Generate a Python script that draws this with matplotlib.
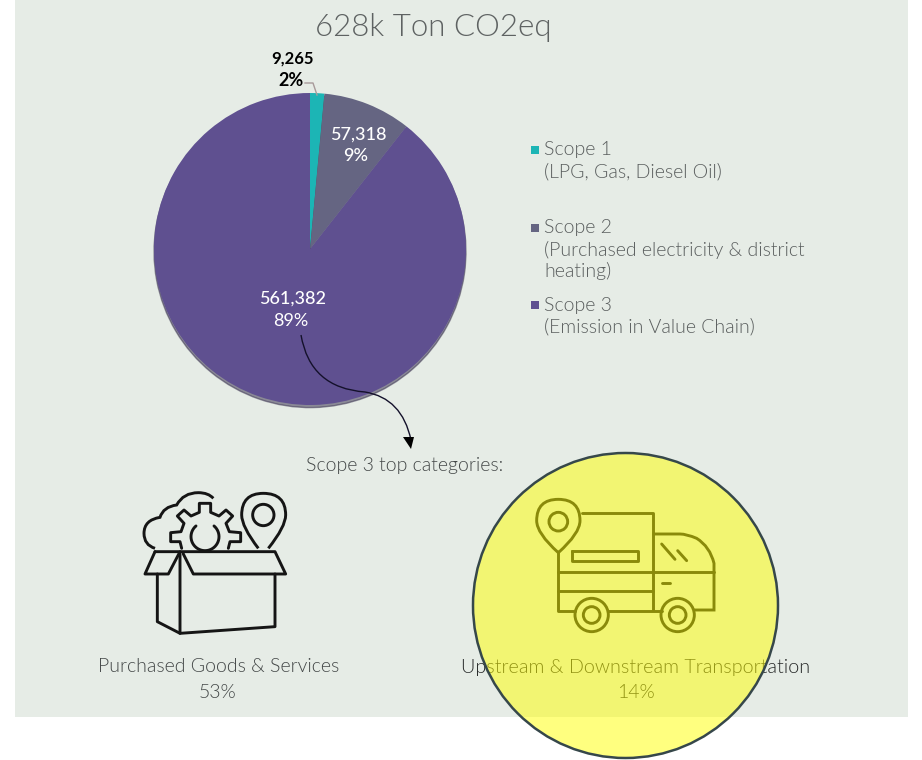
import numpy as np
import matplotlib
matplotlib.use("Agg")
import matplotlib.pyplot as plt
from matplotlib.patches import Circle, PathPatch, Polygon, Rectangle
from matplotlib.path import Path

W, H = 922, 760

scope_values = [9265, 57318, 561382]
scope_percents = ["2%", "9%", "89%"]
scope_colors = ["#1CB5B5", "#656582", "#5F5090"]
legend_lines = [
    ["Scope 1", "(LPG, Gas, Diesel Oil)"],
    ["Scope 2", "(Purchased electricity & district", "heating)"],
    ["Scope 3", "(Emission in Value Chain)"],
]
title_text = "628k Ton CO2eq"
top_heading = "Scope 3 top categories:"
top_categories = ["Purchased Goods & Services", "Upstream & Downstream Transportation"]
top_shares = ["53%", "14%"]

plt.rcParams["font.family"] = ["Lato", "DejaVu Sans"]
GREY = "#5A5E5E"
INK = "#151515"
LIGHT = 300

fig = plt.figure(figsize=(W / 100, H / 100), dpi=100, facecolor="white")

# background panel, everything on this axes uses pixel coordinates
bg = fig.add_axes([0, 0, 1, 1], zorder=0)
bg.set_xlim(0, W)
bg.set_ylim(H, 0)
bg.axis("off")
bg.add_patch(Rectangle((15, 0), 893, 717, fc="#E6ECE6", ec="none"))

# pie
cx, cy, r = 310, 249, 156
side = 2 * r * 1.1
pie_ax = fig.add_axes([(cx - side / 2) / W, 1 - (cy + side / 2) / H, side / W, side / H], zorder=1)
pie_ax.pie(scope_values, colors=scope_colors, startangle=90, counterclock=False, radius=1,
           shadow={"ox": 0.0, "oy": -0.012, "shade": 0.5, "alpha": 0.5})
pie_ax.set_xlim(-1.1, 1.1)
pie_ax.set_ylim(-1.1, 1.1)

ax = fig.add_axes([0, 0, 1, 1], zorder=2)
ax.set_xlim(0, W)
ax.set_ylim(H, 0)
ax.axis("off")
ax.patch.set_alpha(0)


def label(x, y, s, size=12, color=GREY, weight="normal", ha="center"):
    ax.text(x, y, s, fontsize=size, color=color, fontweight=weight, ha=ha, va="center")


label(433, 27, title_text, size=22.5, color="#5E6262", weight=LIGHT)

# slice labels
label(292, 59, f"{scope_values[0]:,}", size=12, color="black", weight="bold")
label(291, 80, scope_percents[0], size=13, color="black", weight="bold")
label(358, 135, f"{scope_values[1]:,}", size=13, color="white", weight="medium")
label(356, 156, scope_percents[1], size=13, color="white", weight="medium")
label(293, 299, f"{scope_values[2]:,}", size=13, color="white", weight="medium")
label(291, 321, scope_percents[2], size=13, color="white")
ax.plot([305, 313, 317], [83, 83, 95], color="#A89A9A", lw=1)

# legend
for lines, color, y0 in zip(legend_lines, scope_colors, [150, 228, 305]):
    ax.add_patch(Rectangle((531, y0 - 4), 8, 8, fc=color, ec="none"))
    for i, line in enumerate(lines):
        label(544, y0 + i * 21.5, line, size=14, weight=LIGHT, ha="left")

# curved arrow from the Scope 3 slice down to the heading
arrow = Path([(301, 335), (310, 388), (365, 392), (402, 398), (411, 440)],
             [Path.MOVETO, Path.CURVE3, Path.CURVE3, Path.CURVE3, Path.CURVE3])
ax.add_patch(PathPatch(arrow, fc="none", ec="#14112B", lw=1))
ax.add_patch(Polygon([(403, 437), (414, 437), (411, 449)], fc="black", ec="none"))

label(405, 466, top_heading, size=14, color="#444848", weight=LIGHT)
label(219, 667, top_categories[0], size=14, color="#444848", weight=LIGHT)
label(218, 692, top_shares[0], size=14, color="#444848", weight=LIGHT)
label(636, 667, top_categories[1], size=14.2, color="#262828", weight=LIGHT)
label(636, 692, top_shares[1], size=14, color="#262828", weight=LIGHT)


def icon_line(pts, ox, oy, close=False, lw=2.1):
    xy = [(x / 3 + ox, y / 3 + oy) for x, y in pts]
    if close:
        xy.append(xy[0])
    ax.plot(*zip(*xy), color=INK, lw=lw, solid_joinstyle="round", solid_capstyle="round")


def icon_curve(start, segs, ox, oy, lw=2.1):
    # quadratic segments, each given as (control, end)
    verts = [start]
    codes = [Path.MOVETO]
    for ctrl, end in segs:
        verts += [ctrl, end]
        codes += [Path.CURVE3, Path.CURVE3]
    verts = [(x / 3 + ox, y / 3 + oy) for x, y in verts]
    ax.add_patch(PathPatch(Path(verts, codes), fc="none", ec=INK, lw=lw))


def icon_ring(x, y, rad, ox, oy, lw=2.1):
    ax.add_patch(Circle((x / 3 + ox, y / 3 + oy), rad / 3, fc="none", ec=INK, lw=lw))


# box icon
ox, oy = 120, 480
icon_line([(105, 215), (465, 215), (497, 282), (220, 282), (190, 222)], ox, oy)
icon_line([(105, 215), (75, 282), (145, 282), (180, 215)], ox, oy)
icon_line([(180, 220), (180, 460), (465, 440), (465, 282)], ox, oy)
icon_line([(112, 282), (112, 425), (180, 460)], ox, oy)
icon_curve((105, 205), [((72, 195), (72, 160)), ((72, 120), (120, 112)),
                        ((130, 80), (170, 75)), ((190, 38), (235, 38)), ((265, 38), (280, 55))], ox, oy)
icon_line([(185, 205), (180, 185), (152, 185), (152, 158), (183, 155), (192, 130), (172, 108),
           (192, 90), (213, 108), (238, 97), (238, 70), (272, 70), (272, 97), (297, 108),
           (318, 90), (338, 108), (318, 130), (328, 155), (362, 158), (362, 185), (330, 185),
           (325, 205)], ox, oy)
t = np.radians(np.linspace(130, 410, 40))
icon_line(list(zip(255 + 42 * np.cos(t), 170 - 42 * np.sin(t))), ox, oy)
icon_curve((415, 205), [((365, 140), (365, 105)), ((365, 40), (430, 40)),
                        ((497, 40), (497, 105)), ((497, 140), (445, 205))], ox, oy)
icon_ring(430, 105, 32, ox, oy)

# truck icon
ox, oy = 510, 480
icon_line([(215, 100), (428, 100), (428, 390)], ox, oy)
icon_line([(145, 215), (145, 392), (195, 392)], ox, oy)
icon_line([(295, 392), (455, 392)], ox, oy)
icon_curve((550, 390), [((612, 390), (612, 390)), ((612, 320), (612, 250)),
                        ((600, 200), (560, 175)), ((530, 162), (510, 162)), ((470, 162), (428, 162))], ox, oy)
icon_line([(145, 277), (612, 277)], ox, oy)
icon_line([(145, 332), (428, 332)], ox, oy)
icon_line([(187, 213), (385, 213), (385, 242), (187, 242)], ox, oy, close=True)
icon_line([(455, 310), (480, 310)], ox, oy)
icon_line([(455, 192), (495, 238)], ox, oy)
icon_line([(503, 212), (530, 242)], ox, oy)
for wx in [245, 503]:
    icon_ring(wx, 405, 50, ox, oy)
    icon_ring(wx, 405, 25, ox, oy)
icon_curve((145, 218), [((80, 160), (80, 122)), ((80, 58), (145, 58)),
                        ((210, 58), (210, 122)), ((210, 160), (145, 218))], ox, oy)
icon_ring(145, 125, 28, ox, oy)

# yellow highlight sits over the truck and its caption
ax.add_patch(Circle((625.5, 605.5), 152.5, fc=(1, 1, 0, 0.5), ec="#36474A", lw=1.8, zorder=5))

fig.savefig("out.png", dpi=100)
